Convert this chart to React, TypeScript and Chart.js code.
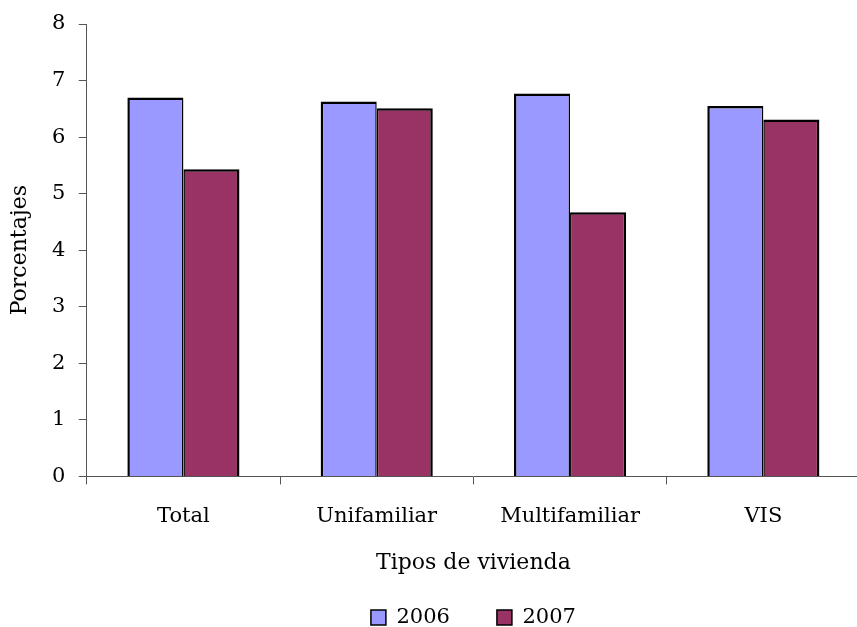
import React, { useEffect, useRef } from "react";
import { Chart, registerables } from "chart.js";

Chart.register(...registerables);

const categories = ["Total", "Unifamiliar", "Multifamiliar", "VIS"];
const series2006 = [6.7, 6.63, 6.77, 6.55];
const series2007 = [5.43, 6.51, 4.67, 6.31];
const seriesLabels = ["2006", "2007"];
const yTicks = [0, 1, 2, 3, 4, 5, 6, 7, 8];

const FONT = "'DejaVu Serif', serif";

export default function App() {
  const ref = useRef<HTMLCanvasElement | null>(null);

  useEffect(() => {
    document.documentElement.style.overflow = "hidden";
    document.body.style.overflow = "hidden";
    document.body.style.margin = "0";
    const canvas = ref.current;
    if (!canvas) return;
    const chart = new Chart(canvas, {
      type: "bar",
      data: {
        labels: categories,
        datasets: [
          {
            label: seriesLabels[0],
            data: series2006,
            backgroundColor: "#9999FF",
            borderColor: "#000000",
            borderWidth: { top: 2.5, left: 2.5, right: 1.5, bottom: 0 },
            borderSkipped: false,
          },
          {
            label: seriesLabels[1],
            data: series2007,
            backgroundColor: "#993366",
            borderColor: "#000000",
            borderWidth: { top: 2.5, left: 1.5, right: 2.5, bottom: 0 },
            borderSkipped: false,
          },
        ],
      },
      options: {
        animation: false,
        responsive: false,
        maintainAspectRatio: false,
        datasets: {
          bar: { categoryPercentage: 0.58, barPercentage: 1.0 },
        },
        layout: { padding: { top: 0, left: 0, right: 0, bottom: 0 } },
        plugins: {
          tooltip: { enabled: false },
          legend: {
            position: "bottom",
            fullSize: false,
            labels: {
              boxWidth: 15,
              boxHeight: 15,
              padding: 7,
              color: "#000",
              font: { family: FONT, size: 21 },
              generateLabels: (ch: any) =>
                ch.data.datasets.map((ds: any, i: number) => ({
                  text: i === 0 ? ds.label + "      " : ds.label,
                  fillStyle: ds.backgroundColor,
                  strokeStyle: "#000",
                  lineWidth: 1.5,
                  hidden: false,
                  datasetIndex: i,
                  fontColor: "#000",
                })),
            },
          },
        },
        scales: {
          x: {
            offset: true,
            grid: {
              offset: true,
              drawOnChartArea: false,
              drawTicks: true,
              tickLength: 8,
              color: "#555",
            },
            border: { color: "#555", width: 1 },
            ticks: {
              color: "#000",
              padding: 20,
              font: { family: FONT, size: 21 },
              maxRotation: 0,
            },
            title: {
              display: true,
              text: "Tipos de vivienda",
              color: "#000",
              font: { family: FONT, size: 22 },
              padding: { top: 0, bottom: 24 },
            },
          },
          y: {
            min: 0,
            max: 8,
            afterBuildTicks: (axis: any) => {
              axis.ticks = yTicks.map((v) => ({ value: v }));
            },
            grid: {
              drawOnChartArea: false,
              drawTicks: true,
              tickLength: 8,
              color: "#555",
            },
            border: { color: "#555", width: 1 },
            ticks: {
              color: "#000",
              padding: 13.5,
              font: { family: FONT, size: 21, lineHeight: 1.0 },
            },
            title: {
              display: true,
              text: "Porcentajes",
              color: "#000",
              font: { family: FONT, size: 22 },
              padding: { top: 7, bottom: 5 },
            },
          },
        },
      },
    });
    return () => chart.destroy();
  }, []);

  return (
    <div style={{ position: "fixed", left: 0, top: 0, width: 860, height: 638 }}>
      <canvas ref={ref} width={860} height={638} style={{ width: 860, height: 638, display: "block" }} />
    </div>
  );
}
